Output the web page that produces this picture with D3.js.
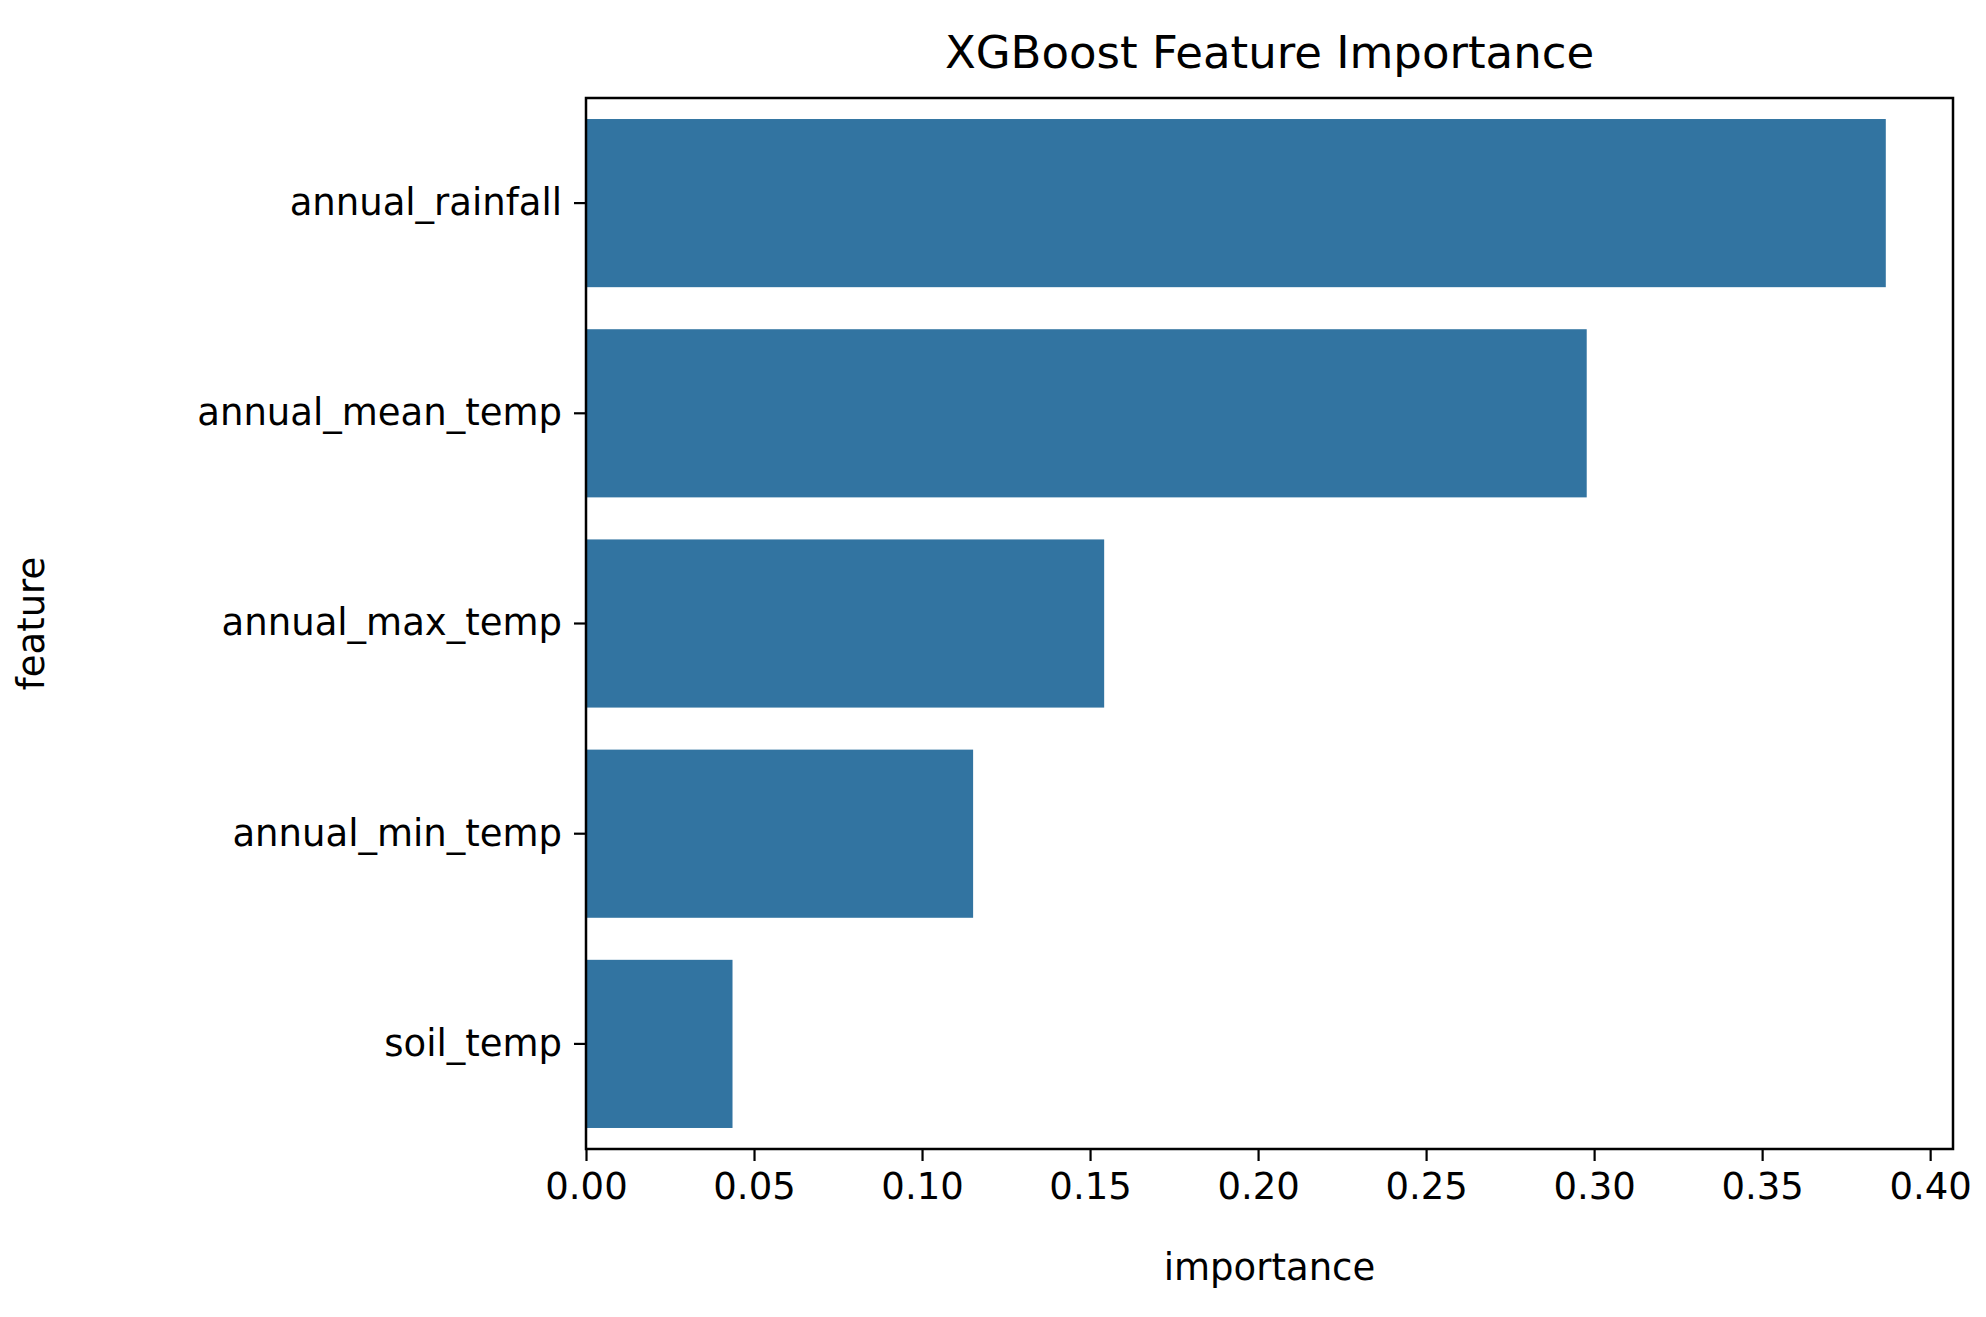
<!DOCTYPE html>
<html><head><meta charset="utf-8">
<script src="https://cdn.jsdelivr.net/npm/d3@7"></script>
<style>body{margin:0;background:#fff}text{font-family:"DejaVu Sans",sans-serif;fill:#000}</style>
</head><body>
<svg id="c" width="1986" height="1317"></svg>
<script>
const features = ["annual_rainfall","annual_mean_temp","annual_max_temp","annual_min_temp","soil_temp"];
const importance = [0.3868,0.2978,0.1542,0.1152,0.0436];
const xTicks = [0,0.05,0.10,0.15,0.20,0.25,0.30,0.35,0.40];

const svg = d3.select("#c");
const L=586,R=1953,T=98,B=1149;
const x = d3.scaleLinear().domain([0,0.4068]).range([L,R]);
const y = d3.scaleBand().domain(features).range([T,B]).paddingInner(0.2).paddingOuter(0.1);

svg.selectAll("rect.bar").data(features).join("rect").attr("class","bar")
  .attr("x",x(0)).attr("y",d=>y(d)).attr("height",y.bandwidth())
  .attr("width",(d,i)=>x(importance[i])-x(0)).attr("fill","#3274a1");

svg.append("rect").attr("x",L).attr("y",T).attr("width",R-L).attr("height",B-T)
  .attr("fill","none").attr("stroke","#000").attr("stroke-width",2.5);

const xa = svg.append("g").attr("transform",`translate(0,${B})`)
  .call(d3.axisBottom(x).tickValues(xTicks).tickFormat(d3.format(".2f")).tickSize(12).tickPadding(12));
xa.select(".domain").remove();
xa.selectAll("line").attr("stroke-width",2.2);
xa.selectAll("text").attr("font-size",37).style("font-family","DejaVu Sans");

const ya = svg.append("g").attr("transform",`translate(${L},0)`)
  .call(d3.axisLeft(y).tickSize(12).tickPadding(12));
ya.select(".domain").remove();
ya.selectAll("line").attr("stroke-width",2.2);
ya.selectAll("text").attr("font-size",37).style("font-family","DejaVu Sans");

svg.append("text").attr("x",(L+R)/2).attr("y",68).attr("text-anchor","middle").attr("font-size",45).text("XGBoost Feature Importance");
svg.append("text").attr("x",(L+R)/2).attr("y",1280).attr("text-anchor","middle").attr("font-size",37).text("importance");
svg.append("text").attr("transform",`translate(44,${(T+B)/2}) rotate(-90)`).attr("text-anchor","middle").attr("font-size",37).text("feature");
</script></body></html>
